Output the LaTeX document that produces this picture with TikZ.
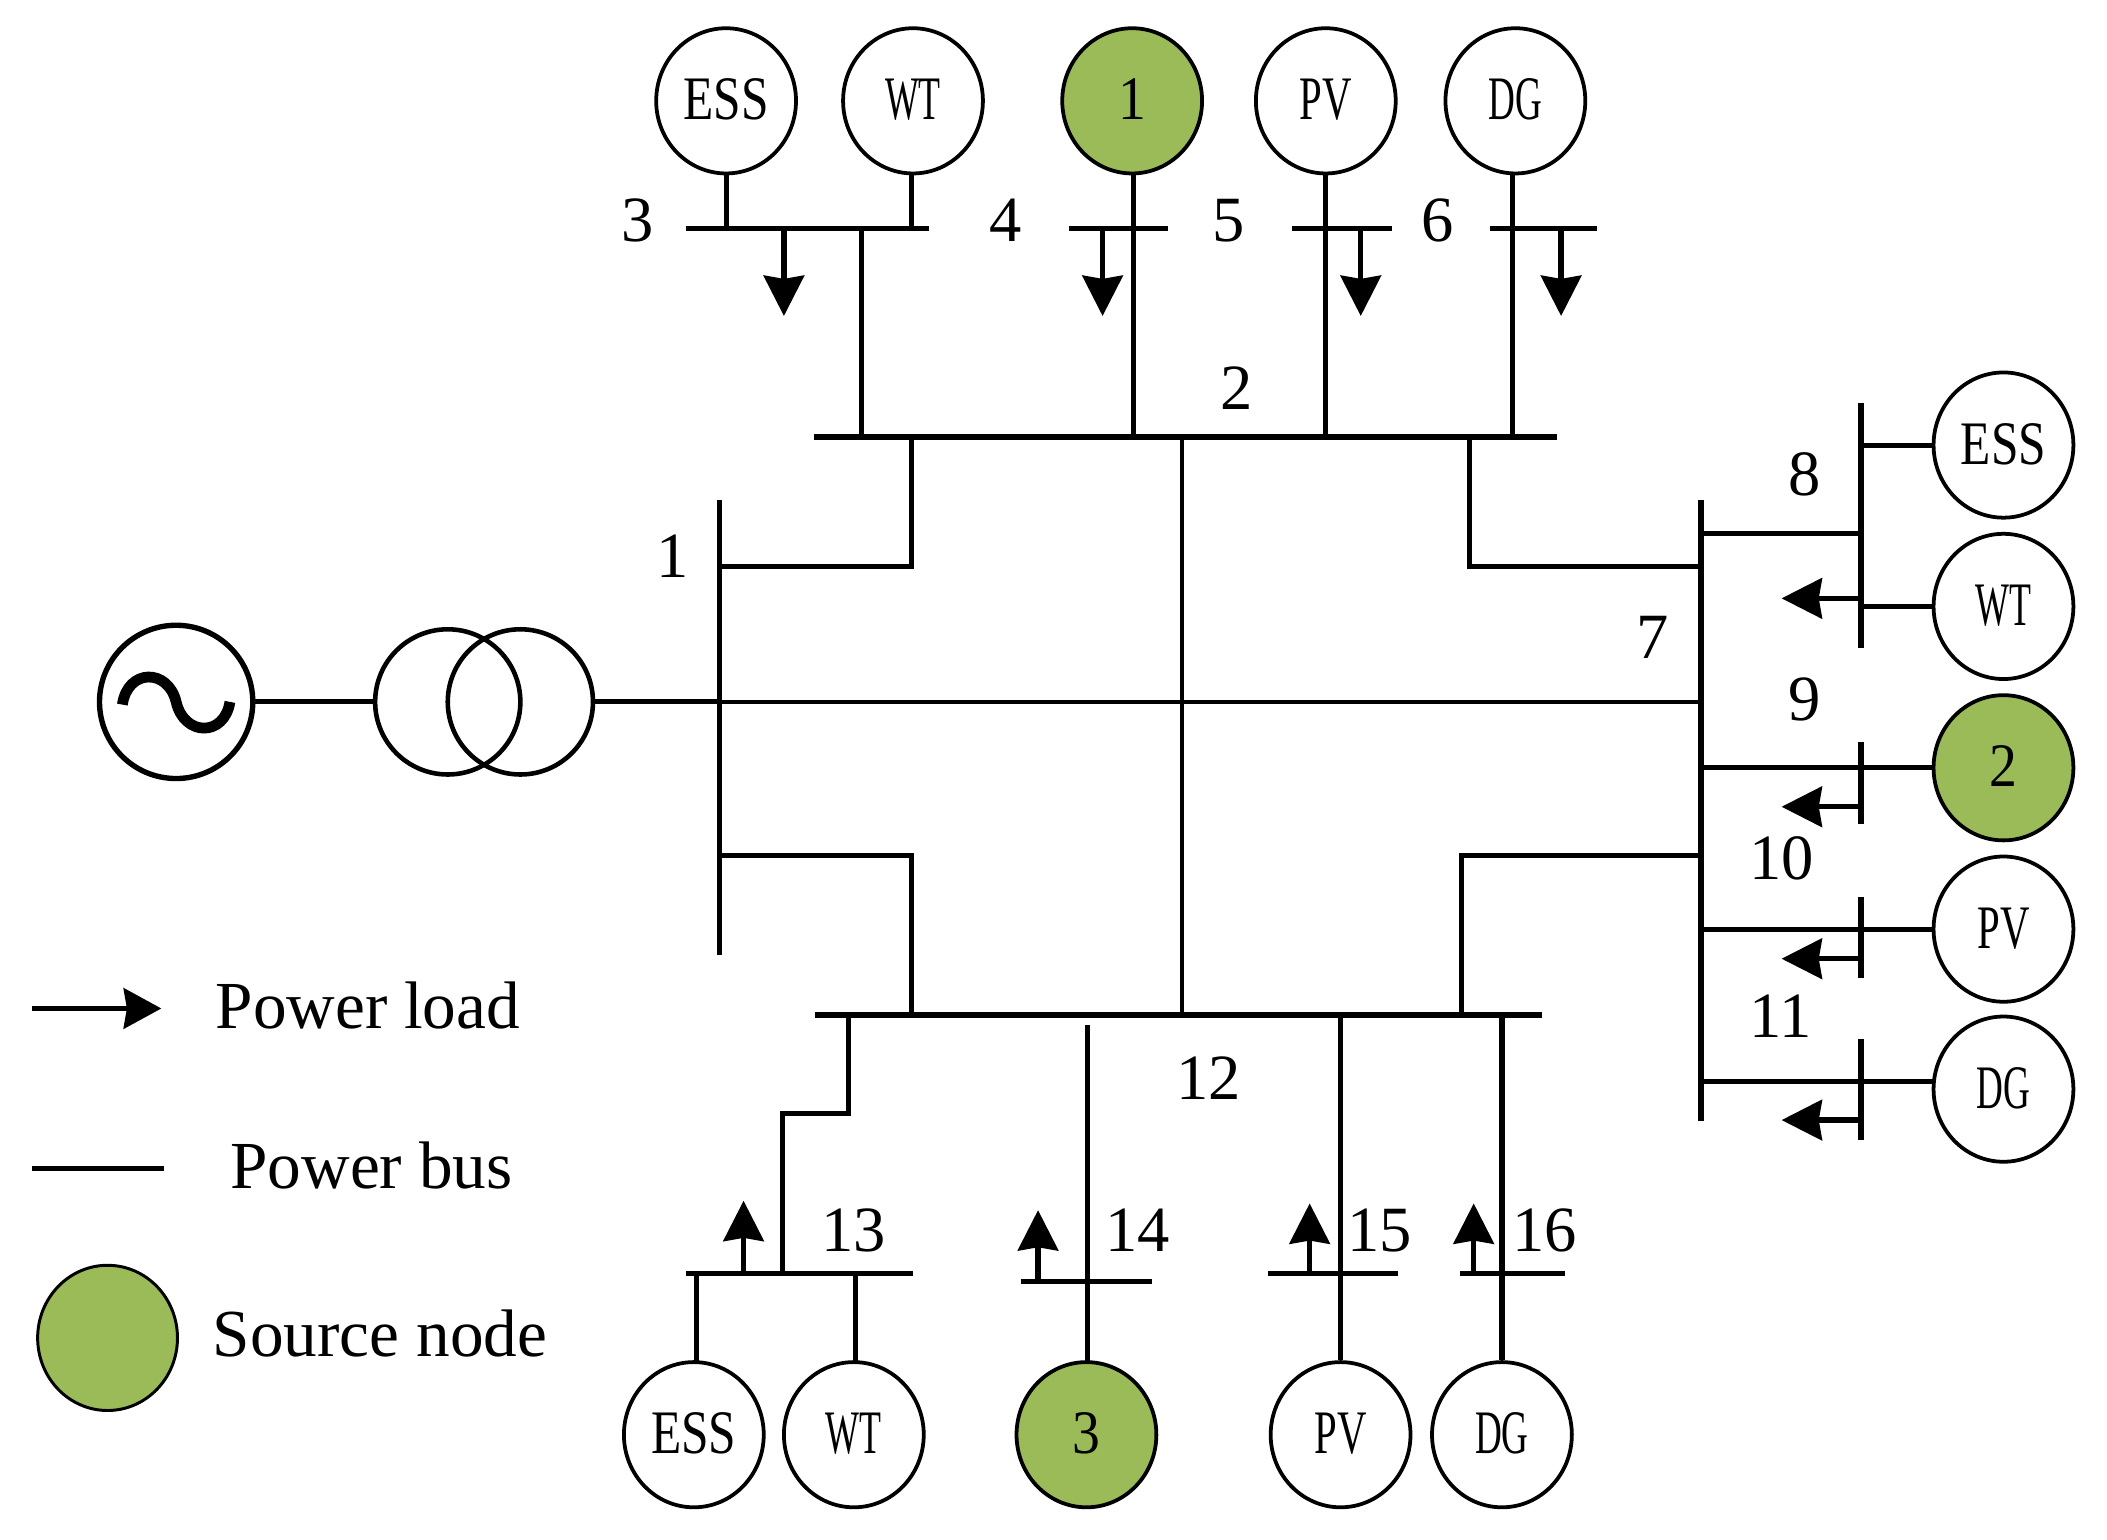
\documentclass[tikz,border=0pt]{standalone}
\usepackage{fontspec}
\setmainfont{Liberation Serif}
\usetikzlibrary{shapes.geometric,arrows.meta}
\definecolor{srcgreen}{HTML}{9BBB59}
\newcommand{\circtext}[2]{\raisebox{1pt}{\scalebox{#1}[1]{\fontsize{23pt}{23pt}\selectfont #2}}}
\tikzset{
  x=0.5pt,y=-0.5pt,
  busline/.style={line width=2.1pt},
  linkline/.style={line width=1.9pt},
  thinline/.style={line width=1.3pt},
  loadarrow/.style={line width=2pt,-{Stealth[length=15pt,width=15pt,inset=1.2pt]}},
  unit/.style={ellipse,draw,line width=1.4pt,minimum width=52pt,minimum height=54pt,inner sep=0pt,fill=white},
  source/.style={unit,fill=srcgreen},
  busno/.style={font=\fontsize{24pt}{24pt}\selectfont,inner sep=0pt},
  legendtext/.style={font=\fontsize{25pt}{25pt}\selectfont,inner sep=0pt,anchor=base west},
}
\begin{document}
\begin{tikzpicture}
\useasboundingbox (0,0) rectangle (1567,1144.7);
% bus end points
\coordinate (b1t) at (535,372);  \coordinate (b1b) at (535,710);
\coordinate (b2l) at (605,325);  \coordinate (b2r) at (1158,325);
\coordinate (b3l) at (510,170);  \coordinate (b3r) at (691,170);
\coordinate (b4l) at (795,170);  \coordinate (b4r) at (869,170);
\coordinate (b5l) at (961,170);  \coordinate (b5r) at (1035,170);
\coordinate (b6l) at (1108,170); \coordinate (b6r) at (1188,170);
\coordinate (b7t) at (1265,372); \coordinate (b7b) at (1265,834);
\coordinate (b8t) at (1384,300); \coordinate (b8b) at (1384,482);
\coordinate (b9t) at (1384,552); \coordinate (b9b) at (1384,613);
\coordinate (b10t) at (1384,667);\coordinate (b10b) at (1384,727);
\coordinate (b11t) at (1384,773);\coordinate (b11b) at (1384,848);
\coordinate (b12l) at (606,755); \coordinate (b12r) at (1147,755);
\coordinate (b13l) at (510,947); \coordinate (b13r) at (679,947);
\coordinate (b14l) at (759,953); \coordinate (b14r) at (857,953);
\coordinate (b15l) at (943,947); \coordinate (b15r) at (1040,947);
\coordinate (b16l) at (1086,947);\coordinate (b16r) at (1164,947);
\foreach \a/\b in {b1t/b1b,b2l/b2r,b3l/b3r,b4l/b4r,b5l/b5r,b6l/b6r,b7t/b7b,b8t/b8b,b9t/b9b,b10t/b10b,b11t/b11b,b12l/b12r,b13l/b13r,b14l/b14r,b15l/b15r,b16l/b16r}
  \draw[busline] (\a) -- (\b);
% units
\node[unit]   (tess) at (540,75)  {\circtext{0.8}{ESS}};
\node[unit]   (twt)  at (679,75)  {\circtext{0.58}{WT}};
\node[source] (s1)   at (842,75)  {\circtext{0.9}{1}};
\node[unit]   (tpv)  at (986,75)  {\circtext{0.66}{PV}};
\node[unit]   (tdg)  at (1127,75) {\circtext{0.6}{DG}};
\node[unit]   (ress) at (1490,331) {\circtext{0.8}{ESS}};
\node[unit]   (rwt)  at (1490,451) {\circtext{0.58}{WT}};
\node[source] (s2)   at (1490,571) {\circtext{0.9}{2}};
\node[unit]   (rpv)  at (1490,691) {\circtext{0.66}{PV}};
\node[unit]   (rdg)  at (1490,810) {\circtext{0.6}{DG}};
\node[unit]   (bess) at (516,1067) {\circtext{0.8}{ESS}};
\node[unit]   (bwt)  at (635,1067) {\circtext{0.58}{WT}};
\node[source] (s3)   at (808,1067) {\circtext{0.9}{3}};
\node[unit]   (bpv)  at (997,1067) {\circtext{0.66}{PV}};
\node[unit]   (bdg)  at (1117,1067){\circtext{0.6}{DG}};
% generator and transformer
\node[ellipse,draw,line width=2pt,minimum width=57pt,minimum height=57pt,inner sep=0pt] (ac) at (131,522) {};
\node[ellipse,draw,line width=1.7pt,minimum width=54pt,minimum height=54pt,inner sep=0pt] (tra) at (333,522) {};
\node[ellipse,draw,line width=1.7pt,minimum width=54pt,minimum height=54pt,inner sep=0pt] (trb) at (387,522) {};
\draw[line width=4pt] (91,524) .. controls (95,497) and (125,497) .. (131,522)
  .. controls (137,548) and (167,548) .. (171,522);
\draw[linkline] (ac) -- (tra);
\draw[linkline] (trb) -- (trb -| b1t);
\draw[thinline] (trb -| b1t) -- (trb -| b7t);
% top stems
\draw[linkline] (tess.south) -- (tess.south |- b3l);
\draw[linkline] (678,128) -- (678,170);
\draw[linkline] (843,128) -- (843,325);
\draw[linkline] (tpv.south) -- (tpv.south |- b2l);
\draw[linkline] (1125,128) -- (1125,325);
\draw[linkline] (641,170) -- (641,325);
\draw[loadarrow] (583,170) -- (583,235);
\draw[loadarrow] (820,170) -- (820,235);
\draw[loadarrow] (1012,170) -- (1012,235);
\draw[loadarrow] (1161,170) -- (1161,235);
% links
\draw[linkline] (678,325) -- (678,421) -- (535,421);
\draw[linkline] (1093,325) -- (1093,421) -- (1265,421);
\draw[linkline] (535,636) -- (678,636) -- (678,755);
\draw[linkline] (1265,636) -- (1087,636) -- (1087,755);
\draw[thinline] (879,325) -- (879,755);
% right side
\draw[linkline] (1265,397) -- (1384,397);
\draw[linkline] (ress) -- (ress -| b8t);
\draw[linkline] (rwt) -- (rwt -| b8t);
\draw[linkline] (s2) -- (s2 -| b7t);
\draw[linkline] (rpv) -- (rpv -| b7t);
\draw[linkline] (1438,804) -- (1265,804);
\draw[loadarrow] (1384,445) -- (1325,445);
\draw[loadarrow] (1384,600) -- (1325,600);
\draw[loadarrow] (1384,713) -- (1325,713);
\draw[loadarrow] (1384,833) -- (1325,833);
% bottom
\draw[linkline] (631,755) -- (631,828) -- (582,828) -- (582,947);
\draw[linkline] (518,947) -- (518,1013);
\draw[linkline] (636,947) -- (636,1013);
\draw[linkline] (809,762) -- (809,1013);
\draw[linkline] (bpv) -- (bpv |- b12l);
\draw[linkline] (bdg) -- (bdg |- b12l);
\draw[loadarrow] (553,947) -- (553,893);
\draw[loadarrow] (772,953) -- (772,900);
\draw[loadarrow] (974,947) -- (974,895);
\draw[loadarrow] (1096,947) -- (1096,895);
% bus numbers
\foreach \n/\x/\y in {3/474/164,4/748/164,5/914/164,6/1069/164,2/920/289,1/500/414,7/1229/474,8/1342/353,9/1342/520,10/1325/638,11/1324/756,12/899/802,13/635/915,14/846/915,15/1026/915,16/1149/915}
  \node[busno] (n\n) at (\x,\y) {\n};
% legend
\coordinate (la) at (24,750); \coordinate (lb) at (120,750);
\coordinate (lc) at (24,869); \coordinate (ld) at (122,869);
\draw[line width=2pt,-{Stealth[length=14pt,width=15pt,inset=1.2pt]}] (la) -- (lb);
\draw[busline] (lc) -- (ld);
\node[source,line width=1.1pt] (lg) at (80,995) {};
\node[legendtext] (lt1) at (160,765) {Power load};
\node[legendtext] (lt2) at (171,884) {Power bus};
\node[legendtext] (lt3) at (158,1009) {Source node};
\end{tikzpicture}
\end{document}
